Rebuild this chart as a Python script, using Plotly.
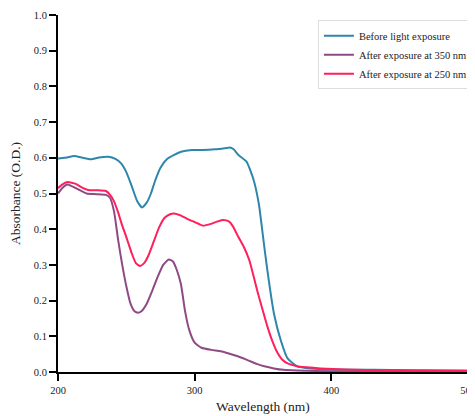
import plotly.graph_objects as go

# Before light exposure
w_before = [200,205,212,218,224,230,237,242,246,250,254,258,261.5,265,268,271,275,280,285,290,298,306,315,322,326,328.5,332,338,343,347,350,353,358,363,368,375,385,400,430,460,500]
a_before = [0.598,0.600,0.605,0.600,0.596,0.601,0.603,0.597,0.585,0.560,0.520,0.478,0.461,0.475,0.500,0.535,0.572,0.597,0.608,0.617,0.622,0.622,0.624,0.627,0.629,0.624,0.608,0.589,0.540,0.470,0.380,0.290,0.164,0.089,0.038,0.016,0.010,0.007,0.006,0.005,0.004]

# After exposure at 350 nm
w_350 = [200,203,207,213,221,228,235,238,241,244,247,250,253,256,258.5,261,265,269,273,277,281,284,287,290,293,296,300,305,312,319,325,331,337,342,346,351,358,365,375,400,500]
a_350 = [0.500,0.515,0.525,0.515,0.500,0.498,0.496,0.488,0.450,0.370,0.300,0.240,0.192,0.170,0.166,0.170,0.192,0.228,0.267,0.300,0.315,0.310,0.285,0.245,0.170,0.118,0.082,0.068,0.062,0.058,0.052,0.045,0.036,0.028,0.022,0.016,0.010,0.006,0.004,0.002,0.001]

# After exposure at 250 nm
w_250 = [200,203,207,213,218,222,228,235,238,241,244,247,250,254,257,260,263,266,270,274,278,282,285,290,295,300,306,312,317,321,325,328,332,336,340,343,346,350,353,357,360,364,368,375,382,392,410,440,500]
a_250 = [0.515,0.525,0.532,0.527,0.516,0.510,0.509,0.507,0.497,0.478,0.447,0.410,0.378,0.332,0.305,0.297,0.305,0.325,0.365,0.405,0.432,0.442,0.444,0.438,0.428,0.420,0.410,0.415,0.422,0.426,0.422,0.408,0.378,0.350,0.313,0.270,0.225,0.170,0.130,0.085,0.058,0.035,0.024,0.016,0.013,0.010,0.007,0.005,0.003]

x_ticks = [200, 300, 400, 500]
y_ticks = [0.0, 0.1, 0.2, 0.3, 0.4, 0.5, 0.6, 0.7, 0.8, 0.9, 1.0]

series = [
    ("Before light exposure", w_before, a_before, "#2E86AB"),
    ("After exposure at 350 nm", w_350, a_350, "#8F4A86"),
    ("After exposure at 250 nm", w_250, a_250, "#FF1F5B"),
]

fig = go.Figure()
for name, w, a, c in series:
    fig.add_trace(go.Scatter(x=w, y=a, mode="lines", name=name,
                             line=dict(color=c, width=2, shape="spline", smoothing=0.5)))

font_family = "Liberation Serif, Times New Roman, serif"
# page body adds an 8px offset; the figure is sized so the plot area lands where the reference has it
fig.update_layout(
    width=475, height=408,
    margin=dict(l=50, r=15, t=7, b=44, autoexpand=False),
    paper_bgcolor="white", plot_bgcolor="white",
    font=dict(family=font_family, size=11, color="#222"),
    showlegend=True,
    legend=dict(x=0.634, y=0.985, xanchor="left", yanchor="top",
                bordercolor="#dddddd", borderwidth=1, bgcolor="white",
                font=dict(family=font_family, size=10.5, color="#222"),
                tracegroupgap=0, itemwidth=30),
)
fig.update_xaxes(range=[200, 500], tickvals=x_ticks, ticktext=[str(v) for v in x_ticks],
                 showgrid=False, zeroline=False, showline=True, linecolor="black", linewidth=2,
                 ticks="outside", ticklen=7, tickwidth=2, tickcolor="black", automargin=False,
                 tickfont=dict(size=10.5),
                 title=dict(text="Wavelength (nm)", font=dict(size=13.5), standoff=7))
fig.update_yaxes(range=[0, 1.0], tickvals=y_ticks, ticktext=[f"{v:.1f}" for v in y_ticks],
                 showgrid=False, zeroline=False, showline=True, linecolor="black", linewidth=2,
                 ticks="outside", ticklen=7, tickwidth=2, tickcolor="black", automargin=False,
                 tickfont=dict(size=10.5),
                 title=dict(text="Absorbance (O.D.)", font=dict(size=13.5), standoff=12))

fig.write_html("out.html")
